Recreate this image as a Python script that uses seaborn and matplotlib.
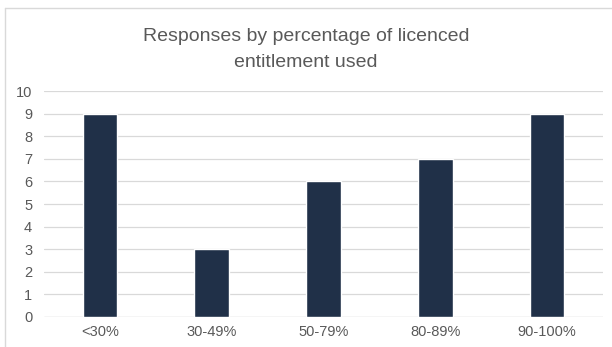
import matplotlib
matplotlib.use("Agg")
import matplotlib.pyplot as plt
import seaborn as sns
import pandas as pd
from matplotlib.lines import Line2D

categories = ["<30%", "30-49%", "50-79%", "80-89%", "90-100%"]
values = [9, 3, 6, 7, 9]
title = "Responses by percentage of licenced\nentitlement used"

sns.set_theme(style="white")
plt.rcParams['font.family'] = ['Liberation Sans', 'DejaVu Sans']

df = pd.DataFrame({"cat": categories, "val": values})

fig = plt.figure(figsize=(6.12, 3.47), dpi=100)
ax = fig.add_axes([44/612, 30/347, 559/612, 226/347])

sns.barplot(data=df, x="cat", y="val", color="#203048", width=0.31,
            saturation=1, ax=ax, zorder=3)

ax.set_ylim(0, 10)
ax.set_yticks(range(0, 11))
ax.yaxis.grid(True, color="#d9d9d9", linewidth=0.9, zorder=0)
ax.xaxis.grid(False)
for s in ax.spines.values():
    s.set_visible(False)
ax.axhline(0, color="#d9d9d9", linewidth=0.9, zorder=1)
ax.set_xlabel("")
ax.set_ylabel("")
ax.tick_params(axis="both", labelsize=10.5, colors="#595959", length=0)
ax.tick_params(axis="x", pad=6)
ax.tick_params(axis="y", pad=8.5)

fig.text(0.5, 1 - 49.5/347, title, ha="center", va="center", fontsize=14,
         color="#595959", linespacing=1.75)

# chart frame
fig.add_artist(Line2D([5/612, 1], [1-8/347, 1-8/347], color="#d9d9d9", linewidth=1, transform=fig.transFigure))
fig.add_artist(Line2D([5/612, 5/612], [0, 1-8/347], color="#d9d9d9", linewidth=1, transform=fig.transFigure))

fig.savefig("out.png", dpi=100)
